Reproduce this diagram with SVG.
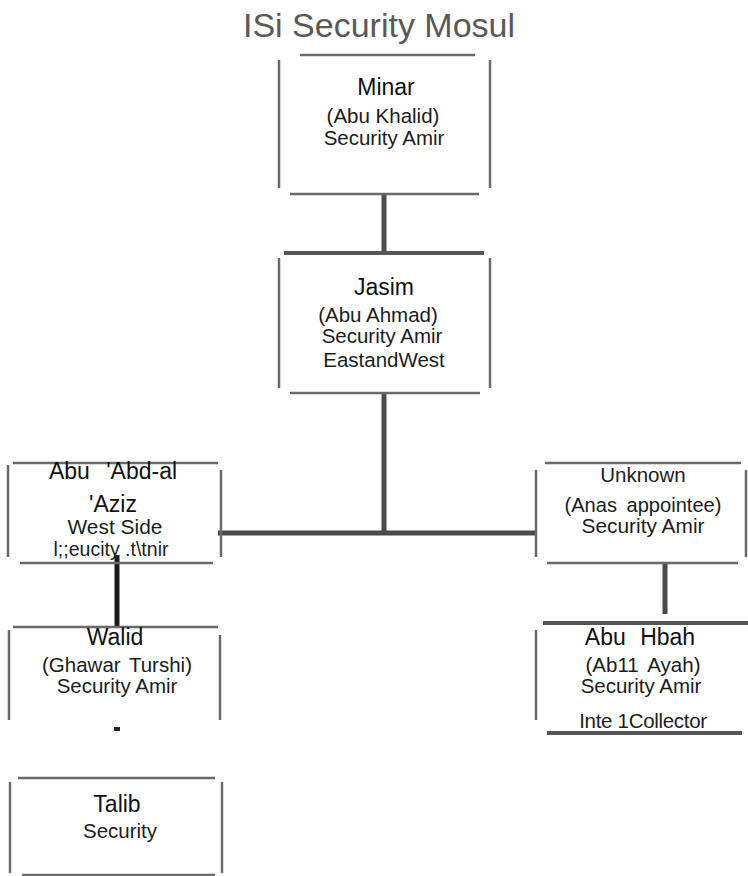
<svg xmlns="http://www.w3.org/2000/svg" width="748" height="876" viewBox="0 0 748 876">
<style>
text{font-family:"Liberation Sans",Arial,sans-serif;fill:#1c1c1c;text-anchor:middle}
.t{font-size:34px;fill:#595959}
.n{font-size:23px;fill:#111}
.s{font-size:20.5px}
.e{stroke:#6a6a6a;stroke-width:2.5;fill:none}
.eb{stroke:#555;stroke-width:4;fill:none}
.c{stroke:#4a4a4a;stroke-width:5;fill:none}
.ck{stroke:#1a1a1a;stroke-width:5;fill:none}
</style>
<rect width="748" height="876" fill="#fff"/>
<text class="t" x="379" y="37">ISi Security Mosul</text>
<g id="connectors">
<line class="c" x1="384" y1="194" x2="384" y2="252"/>
<line class="c" x1="384" y1="393" x2="384" y2="533"/>
<line class="c" x1="218" y1="533" x2="537" y2="533"/>
<line class="ck" x1="117" y1="555" x2="117" y2="626"/>
<line class="c" x1="665" y1="563" x2="665" y2="614"/>
<rect x="114" y="727" width="6" height="4" fill="#222"/>
</g>
<g id="minar">
<line class="e" x1="300" y1="55" x2="475" y2="55"/>
<line class="e" x1="279" y1="60" x2="279" y2="188"/>
<line class="e" x1="490" y1="60" x2="490" y2="188"/>
<line class="e" x1="290" y1="194" x2="479" y2="194"/>
<text class="n" x="386" y="95">Minar</text>
<text class="s" x="383" y="123">(Abu Khalid)</text>
<text class="s" x="384" y="145">Security Amir</text>
</g>
<g id="jasim">
<line class="eb" x1="284" y1="253" x2="484" y2="253"/>
<line class="e" x1="279" y1="258" x2="279" y2="388"/>
<line class="e" x1="490" y1="258" x2="490" y2="388"/>
<line class="e" x1="290" y1="393" x2="480" y2="393"/>
<text class="n" x="384" y="295" font-size="24">Jasim</text>
<text class="s" x="378" y="322" font-size="19">(Abu Ahmad)</text>
<text class="s" x="382" y="343">Security Amir</text>
<text class="s" x="384" y="367" font-size="21.5">EastandWest</text>
</g>
<g id="abdal">
<line class="e" x1="13" y1="463" x2="218" y2="463"/>
<line class="e" x1="8" y1="465" x2="8" y2="557"/>
<line class="e" x1="221" y1="470" x2="221" y2="557"/>
<line class="e" x1="20" y1="563" x2="213" y2="563"/>
<text class="n" x="113" y="479" word-spacing="10">Abu 'Abd-al</text>
<text class="n" x="113" y="512">'Aziz</text>
<text class="s" x="115" y="534" font-size="16" textLength="95" lengthAdjust="spacingAndGlyphs">West Side</text>
<text class="s" x="111" y="556" font-size="13" textLength="115" lengthAdjust="spacingAndGlyphs">l;;eucity .t\tnir</text>
</g>
<g id="unknown">
<line class="e" x1="545" y1="463" x2="741" y2="463"/>
<line class="e" x1="536" y1="470" x2="536" y2="557"/>
<line class="e" x1="746" y1="470" x2="746" y2="557"/>
<line class="e" x1="547" y1="563" x2="738" y2="563"/>
<text class="s" x="643" y="482" font-size="21">Unknown</text>
<text class="s" x="643" y="512" font-size="19" textLength="157" lengthAdjust="spacingAndGlyphs" word-spacing="4">(Anas appointee)</text>
<text class="s" x="643" y="533" font-size="18.5" textLength="123" lengthAdjust="spacingAndGlyphs">Security Amir</text>
</g>
<g id="walid">
<line class="e" x1="13" y1="627" x2="218" y2="627"/>
<line class="e" x1="9" y1="630" x2="9" y2="720"/>
<line class="e" x1="220" y1="635" x2="220" y2="720"/>
<text class="n" x="115" y="645">Walid</text>
<text class="s" x="117" y="672" font-size="20" word-spacing="3">(Ghawar Turshi)</text>
<text class="s" x="117" y="693">Security Amir</text>
</g>
<g id="abuhbah">
<line class="eb" x1="543" y1="623" x2="748" y2="623"/>
<line class="e" x1="536" y1="630" x2="536" y2="720"/>
<line class="eb" x1="547" y1="733" x2="742" y2="733"/>
<text class="n" x="640" y="645" word-spacing="8">Abu Hbah</text>
<text class="s" x="643" y="672" font-size="17" word-spacing="4">(Ab11 Ayah)</text>
<text class="s" x="641" y="693">Security Amir</text>
<text class="s" x="643" y="728" font-size="20" letter-spacing="-0.3">Inte 1Collector</text>
</g>
<g id="talib">
<line class="e" x1="18" y1="778" x2="215" y2="778"/>
<line class="e" x1="10" y1="782" x2="10" y2="873"/>
<line class="e" x1="222" y1="782" x2="222" y2="873"/>
<line class="e" x1="22" y1="875" x2="215" y2="875"/>
<text class="n" x="117" y="812" font-size="24">Talib</text>
<text class="s" x="120" y="838" font-size="21">Security</text>
</g>
</svg>
